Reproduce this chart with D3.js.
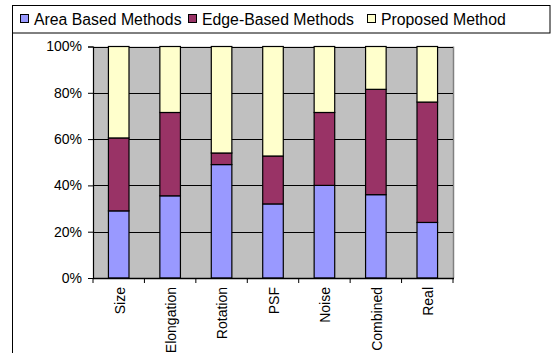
<!DOCTYPE html>
<html>
<head>
<meta charset="utf-8">
<script src="https://cdn.jsdelivr.net/npm/d3@7/dist/d3.min.js"></script>
<style>
  html, body { margin: 0; padding: 0; background: #fff; }
  svg { display: block; font-family: "Liberation Sans", Arial, sans-serif; }
</style>
</head>
<body>
<svg id="chart" width="553" height="353"></svg>
<script>
// Share of detections per test set, in percent of each stack
const categories = ["Size", "Elongation", "Rotation", "PSF", "Noise", "Combined", "Real"];
const seriesNames = ["Area Based Methods", "Edge-Based Methods", "Proposed Method"];
const areaBased = [29, 35.5, 49, 32, 40, 36, 24];
const edgeBased = [31.5, 36, 5, 20.7, 31.5, 45.5, 52];
const proposed = [39.5, 28.5, 46, 47.3, 28.5, 18.5, 24];
const yTicks = [0, 20, 40, 60, 80, 100];
const colors = ["#9999FF", "#993366", "#FFFFCC"];

const svg = d3.select("#chart");

// Frame: left border and legend box
svg.append("line").attr("x1", 12.5).attr("x2", 12.5).attr("y1", 5).attr("y2", 353)
  .attr("stroke", "#000").attr("stroke-width", 1);
svg.append("rect").attr("x", 12.5).attr("y", 5.5).attr("width", 537.5).attr("height", 27.5)
  .attr("fill", "#fff").attr("stroke", "#000").attr("stroke-width", 1);

const plot = { left: 93, right: 453, top: 46.5, bottom: 278 };

const x = d3.scaleBand().domain(categories).range([plot.left, plot.right]).paddingInner(0.6).paddingOuter(0.3);
const xOuter = d3.scaleBand().domain(categories).range([plot.left, plot.right]);
const y = d3.scaleLinear().domain([0, 100]).range([plot.bottom, plot.top]);

// Plot area
svg.append("rect").attr("x", plot.left).attr("y", plot.top)
  .attr("width", plot.right - plot.left).attr("height", plot.bottom - plot.top)
  .attr("fill", "#C0C0C0");
svg.append("line").attr("x1", plot.right + 0.5).attr("x2", plot.right + 0.5)
  .attr("y1", plot.top).attr("y2", plot.bottom).attr("stroke", "#808080").attr("stroke-width", 1.5);

// Gridlines
svg.append("g").selectAll("line").data(yTicks.slice(1)).join("line")
  .attr("x1", plot.left).attr("x2", plot.right)
  .attr("y1", d => Math.round(y(d)) + 0.5).attr("y2", d => Math.round(y(d)) + 0.5)
  .attr("stroke", "#000").attr("stroke-width", 1);

// Stacked bars
const rows = categories.map((c, i) => ({ cat: c, s0: areaBased[i], s1: edgeBased[i], s2: proposed[i] }));
const stack = d3.stack().keys(["s0", "s1", "s2"]);
const layers = stack(rows);

svg.append("g").selectAll("g").data(layers).join("g")
  .attr("fill", (d, i) => colors[i])
  .selectAll("rect").data(d => d).join("rect")
  .attr("x", d => x(d.data.cat))
  .attr("width", x.bandwidth())
  .attr("y", d => y(d[1]))
  .attr("height", d => y(d[0]) - y(d[1]))
  .attr("stroke", "#000").attr("stroke-width", 1.2);

// Y axis
const yAxis = d3.axisLeft(y).tickValues(yTicks).tickFormat(d => d + "%").tickSize(5).tickPadding(6);
const gy = svg.append("g").attr("transform", `translate(${plot.left},0)`).call(yAxis);
gy.select(".domain").attr("stroke", "#000").attr("stroke-width", 1.2);
gy.selectAll("text").attr("font-size", 14).attr("fill", "#000")
  .attr("font-family", "'Liberation Sans', Arial, sans-serif");

// X axis: ticks on category boundaries
const gx = svg.append("g").attr("transform", `translate(0,${plot.bottom})`);
gx.append("line").attr("x1", plot.left).attr("x2", plot.right + 1).attr("y1", 0.5).attr("y2", 0.5)
  .attr("stroke", "#000").attr("stroke-width", 1.5);
const boundaries = categories.map(c => xOuter(c)).concat([plot.right]);
gx.selectAll("line.tick").data(boundaries).join("line").attr("class", "tick")
  .attr("x1", d => d).attr("x2", d => d).attr("y1", 0).attr("y2", 5)
  .attr("stroke", "#000").attr("stroke-width", 1);
gx.selectAll("text").data(categories).join("text")
  .attr("transform", d => `translate(${xOuter(d) + xOuter.bandwidth() / 2 + 1},9) rotate(-90)`)
  .attr("text-anchor", "end").attr("dy", "0.35em")
  .attr("font-size", 14).attr("fill", "#000")
  .text(d => d);

// Legend
const legendX = [20, 188, 367];
const lg = svg.append("g").selectAll("g").data(seriesNames).join("g")
  .attr("transform", (d, i) => `translate(${legendX[i]},0)`);
lg.append("rect").attr("x", 0.5).attr("y", 14.5).attr("width", 8).attr("height", 8)
  .attr("fill", (d, i) => colors[i]).attr("stroke", "#000").attr("stroke-width", 1);
lg.append("text").attr("x", 14).attr("y", 24.5).attr("font-size", 15.8).attr("fill", "#000").text(d => d);
</script>
</body>
</html>
